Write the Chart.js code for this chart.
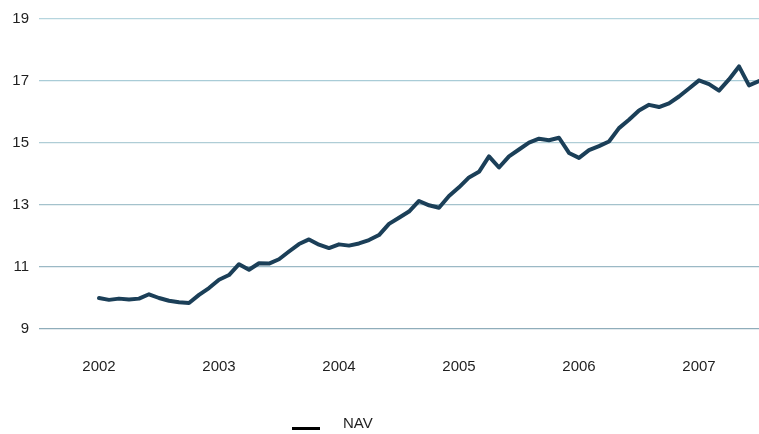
<!DOCTYPE html>
<html>
<head>
<meta charset="utf-8">
<script src="https://cdn.jsdelivr.net/npm/chart.js@4.4.1/dist/chart.umd.min.js"></script>
<style>
  html, body { margin: 0; padding: 0; background: #ffffff; }
  #wrap { width: 759px; height: 434px; position: relative; }
</style>
</head>
<body>
<div id="wrap"><canvas id="c"></canvas></div>
<script>
// ---- data ----
const seriesName = "NAV";
const months = [
  "2002-01","2002-02","2002-03","2002-04","2002-05","2002-06","2002-07","2002-08","2002-09","2002-10","2002-11","2002-12",
  "2003-01","2003-02","2003-03","2003-04","2003-05","2003-06","2003-07","2003-08","2003-09","2003-10","2003-11","2003-12",
  "2004-01","2004-02","2004-03","2004-04","2004-05","2004-06","2004-07","2004-08","2004-09","2004-10","2004-11","2004-12",
  "2005-01","2005-02","2005-03","2005-04","2005-05","2005-06","2005-07","2005-08","2005-09","2005-10","2005-11","2005-12",
  "2006-01","2006-02","2006-03","2006-04","2006-05","2006-06","2006-07","2006-08","2006-09","2006-10","2006-11","2006-12",
  "2007-01","2007-02","2007-03","2007-04","2007-05","2007-06","2007-07"
];
const navValues = [
  10.00, 9.94, 9.98, 9.95, 9.98, 10.12, 10.00, 9.91, 9.86, 9.84, 10.10, 10.32,
  10.59, 10.74, 11.09, 10.91, 11.12, 11.11, 11.25, 11.50, 11.74, 11.89, 11.72, 11.61,
  11.73, 11.69, 11.76, 11.87, 12.03, 12.39, 12.59, 12.79, 13.13, 12.99, 12.91, 13.29,
  13.57, 13.89, 14.07, 14.57, 14.21, 14.57, 14.79, 15.01, 15.14, 15.09, 15.17, 14.68,
  14.52, 14.77, 14.90, 15.05, 15.48, 15.75, 16.05, 16.23, 16.16, 16.28, 16.50, 16.76,
  17.02, 16.90, 16.69, 17.05, 17.47, 16.86, 17.00
];
const yearTicks = [2002, 2003, 2004, 2005, 2006, 2007];
const valueTicks = [9, 11, 13, 15, 17, 19];

// ---- build points (month label -> position on a year axis) ----
const points = months.map((m, i) => {
  const [y, mo] = m.split("-").map(Number);
  return { x: y + (mo - 1) / 12, y: navValues[i] };
});

const FONT = "'Liberation Sans', Arial, sans-serif";
const TEXT = "#1f1f1f";
const LINE = "#1b3f58";
// gridline tints, from bottom (9) to top (19)
const GRID_TINTS = ["#8fadba", "#9bb9c5", "#a4c2cc", "#afcdd6", "#a9ccd7", "#b6d5de"];

const legendPlugin = {
  id: "navLegend",
  afterDraw(chart) {
    const ctx = chart.ctx;
    ctx.save();
    ctx.strokeStyle = "#000000";
    ctx.lineWidth = 3;
    ctx.beginPath();
    ctx.moveTo(292, 428.5);
    ctx.lineTo(320, 428.5);
    ctx.stroke();
    ctx.fillStyle = TEXT;
    ctx.font = "15px " + FONT;
    ctx.textBaseline = "middle";
    ctx.textAlign = "left";
    ctx.fillText(chart.data.datasets[0].label, 343, 424);
    ctx.restore();
  }
};

new Chart(document.getElementById("c"), {
  type: "line",
  data: {
    datasets: [{
      label: seriesName,
      data: points,
      borderColor: LINE,
      backgroundColor: LINE,
      borderWidth: 4,
      pointRadius: 0,
      tension: 0,
      borderJoinStyle: "round",
      borderCapStyle: "round",
      clip: 4
    }]
  },
  options: {
    responsive: true,
    maintainAspectRatio: false,
    animation: false,
    devicePixelRatio: 1,
    layout: { padding: { top: 9, right: 0, bottom: 45, left: 0 } },
    plugins: { legend: { display: false }, tooltip: { enabled: false } },
    scales: {
      x: {
        type: "linear",
        min: 2001.5,
        max: 2007.5,
        grid: { display: false, drawTicks: false },
        border: { display: false },
        afterBuildTicks: s => { s.ticks = yearTicks.map(v => ({ value: v })); },
        afterFit: s => { s.height = 60; },
        ticks: {
          padding: 29,
          color: TEXT,
          font: { family: FONT, size: 15 },
          callback: v => String(v),
          maxRotation: 0,
          autoSkip: false
        }
      },
      y: {
        min: 9,
        max: 19,
        grid: {
          color: c => GRID_TINTS[Math.max(0, Math.min(GRID_TINTS.length - 1, c.index))],
          lineWidth: 1.2,
          drawTicks: false
        },
        border: { display: false },
        afterBuildTicks: s => { s.ticks = valueTicks.map(v => ({ value: v })); },
        afterFit: s => { s.width = 39; },
        ticks: {
          padding: 10,
          color: TEXT,
          font: { family: FONT, size: 15 },
          callback: v => String(v)
        }
      }
    }
  },
  plugins: [legendPlugin]
});
</script>
</body>
</html>
